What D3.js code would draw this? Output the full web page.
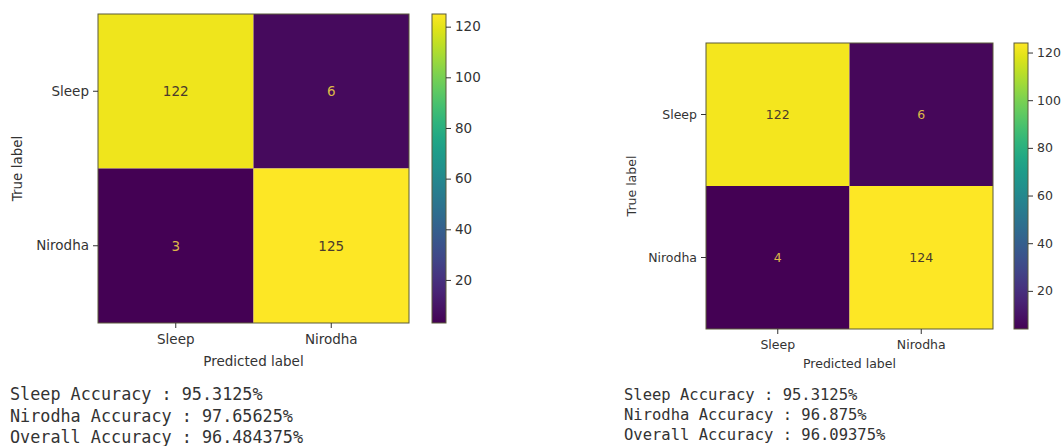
<!DOCTYPE html>
<html>
<head>
<meta charset="utf-8">
<script src="https://cdn.jsdelivr.net/npm/d3@7"></script>
<style>
  html, body { margin: 0; padding: 0; background: #fff; }
  svg { display: block; }
</style>
</head>
<body>
<svg id="chart" width="1064" height="446"></svg>
<script>
// ---- data ----
const classes = ["Sleep", "Nirodha"];
const matrixLeft = [[122, 6], [3, 125]];
const matrixRight = [[122, 6], [4, 124]];
const colorbarTicks = [20, 40, 60, 80, 100, 120];
const accuracyLabels = ["Sleep Accuracy", "Nirodha Accuracy", "Overall Accuracy"];
const accuracyLeft = ["95.3125%", "97.65625%", "96.484375%"];
const accuracyRight = ["95.3125%", "96.875%", "96.09375%"];

const svg = d3.select("#chart");
const textColor = "#333";

function drawCM(matrix, acc, L) {
  const g = svg.append("g");
  const flat = matrix.flat();
  const vmin = d3.min(flat), vmax = d3.max(flat);
  const color = d3.scaleSequential(d3.interpolateViridis).domain([vmin, vmax]);

  const x = d3.scaleBand().domain(classes).range([L.x0, L.x1]);
  const y = d3.scaleBand().domain(classes).range([L.y0, L.y1]);

  const cells = [];
  matrix.forEach((row, i) => row.forEach((v, j) => cells.push({ t: classes[i], p: classes[j], v })));

  g.selectAll("rect.cell").data(cells).enter().append("rect")
    .attr("x", d => x(d.p)).attr("y", d => y(d.t))
    .attr("width", x.bandwidth()).attr("height", y.bandwidth())
    .attr("fill", d => color(d.v));

  const thresh = (vmin + vmax) / 2;
  g.selectAll("text.val").data(cells).enter().append("text")
    .attr("x", d => x(d.p) + x.bandwidth() / 2)
    .attr("y", d => y(d.t) + y.bandwidth() / 2)
    .attr("text-anchor", "middle").attr("dominant-baseline", "central")
    .attr("font-family", "DejaVu Sans").attr("font-size", L.fs)
    .attr("fill", d => d.v > thresh ? "#4a3a2c" : "#dcb848")
    .text(d => d.v);

  // frame
  g.append("rect").attr("x", L.x0).attr("y", L.y0)
    .attr("width", L.x1 - L.x0).attr("height", L.y1 - L.y0)
    .attr("fill", "none").attr("stroke", "#5a5a3a").attr("stroke-width", 1);

  // axes
  const xAxis = g.append("g").attr("transform", `translate(0,${L.y1})`)
    .call(d3.axisBottom(x).tickSize(5).tickPadding(6));
  const yAxis = g.append("g").attr("transform", `translate(${L.x0},0)`)
    .call(d3.axisLeft(y).tickSize(5).tickPadding(4));
  [xAxis, yAxis].forEach(a => {
    a.select(".domain").remove();
    a.selectAll("line").attr("stroke", textColor);
    a.selectAll("text").attr("font-family", "DejaVu Sans").attr("font-size", L.fs).attr("fill", textColor);
  });

  g.append("text").attr("x", (L.x0 + L.x1) / 2).attr("y", L.xlabY)
    .attr("text-anchor", "middle").attr("font-family", "DejaVu Sans")
    .attr("font-size", L.fs).attr("fill", textColor).text("Predicted label");
  g.append("text").attr("transform", `translate(${L.ylabX},${(L.y0 + L.y1) / 2}) rotate(-90)`)
    .attr("text-anchor", "middle").attr("font-family", "DejaVu Sans")
    .attr("font-size", L.fs).attr("fill", textColor).text("True label");

  // colorbar
  const cb = d3.scaleLinear().domain([vmin, vmax]).range([L.y1, L.y0]);
  const gid = "grad" + L.id;
  const grad = svg.append("defs").append("linearGradient").attr("id", gid)
    .attr("x1", 0).attr("y1", 1).attr("x2", 0).attr("y2", 0);
  d3.range(0, 1.0001, 0.05).forEach(t => grad.append("stop")
    .attr("offset", t).attr("stop-color", d3.interpolateViridis(t)));
  g.append("rect").attr("x", L.cbx).attr("y", L.y0).attr("width", L.cbw)
    .attr("height", L.y1 - L.y0).attr("fill", `url(#${gid})`)
    .attr("stroke", "#5a5a3a").attr("stroke-width", 1);
  const cAxis = g.append("g").attr("transform", `translate(${L.cbx + L.cbw},0)`)
    .call(d3.axisRight(cb).tickValues(colorbarTicks).tickSize(5).tickPadding(4));
  cAxis.select(".domain").remove();
  cAxis.selectAll("line").attr("stroke", textColor);
  cAxis.selectAll("text").attr("font-family", "DejaVu Sans").attr("font-size", L.fs).attr("fill", textColor);

  // accuracy text
  g.selectAll("text.acc").data(accuracyLabels).enter().append("text")
    .attr("x", L.accX).attr("y", (d, i) => L.accY + i * L.accDy)
    .attr("font-family", "DejaVu Sans Mono").attr("font-size", L.accFs)
    .attr("fill", textColor)
    .text((d, i) => `${d} : ${acc[i]}`);
}

drawCM(matrixLeft, accuracyLeft, {
  id: "L", x0: 98, x1: 409, y0: 14, y1: 323, fs: 13.5,
  xlabY: 366, ylabX: 22, cbx: 432, cbw: 14,
  accX: 10, accY: 400, accDy: 21.5, accFs: 16.8
});
drawCM(matrixRight, accuracyRight, {
  id: "R", x0: 706, x1: 993, y0: 43, y1: 329, fs: 12.5,
  xlabY: 368, ylabX: 636, cbx: 1014, cbw: 14,
  accX: 624, accY: 400, accDy: 20, accFs: 15.5
});
</script>
</body>
</html>
